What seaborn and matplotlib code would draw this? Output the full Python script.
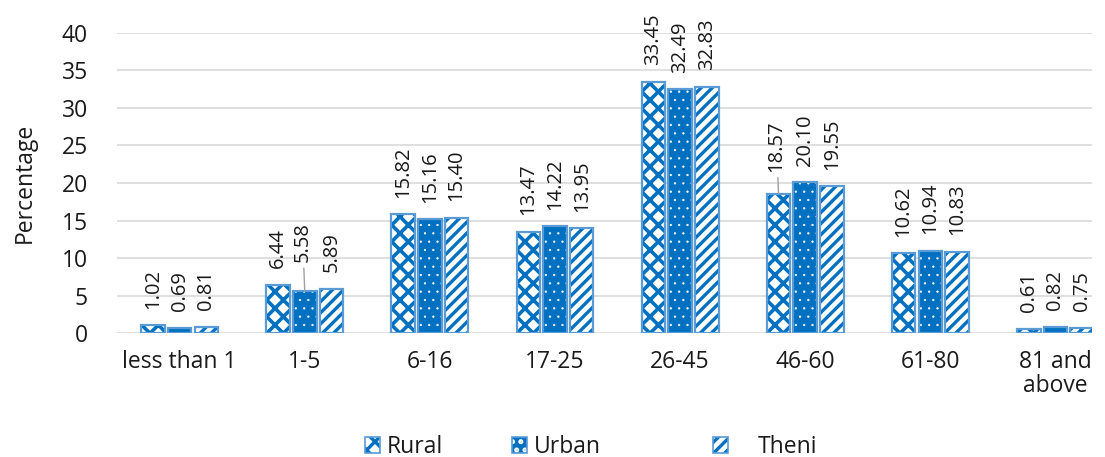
import matplotlib
matplotlib.use("Agg")
import matplotlib.pyplot as plt
from matplotlib.patches import Rectangle, Patch
from matplotlib.legend_handler import HandlerTuple
import seaborn as sns
import pandas as pd

age_groups = ["less than 1", "1-5", "6-16", "17-25", "26-45", "46-60", "61-80", "81 and\nabove"]
rural = [1.02, 6.44, 15.82, 13.47, 33.45, 18.57, 10.62, 0.61]
urban = [0.69, 5.58, 15.16, 14.22, 32.49, 20.10, 10.94, 0.82]
theni = [0.81, 5.89, 15.40, 13.95, 32.83, 19.55, 10.83, 0.75]
series = ["Rural", "Urban", "Theni"]

df = pd.DataFrame({
    "Age": age_groups * 3,
    "Percentage": rural + urban + theni,
    "Area": [s for s in series for _ in age_groups],
})

sns.set_theme(style="white")
plt.rcParams["font.family"] = ["Open Sans", "DejaVu Sans"]
plt.rcParams["hatch.linewidth"] = 2.4

BLUE = "#0070C0"
EDGE = "#5B9BD5"
TEXT = "#1a1a1a"

fig, ax = plt.subplots(figsize=(11.05, 4.57), dpi=100)
fig.subplots_adjust(left=0.106, right=0.988, top=0.928, bottom=0.271)

sns.barplot(data=df, x="Age", y="Percentage", hue="Area", order=age_groups,
            hue_order=series, width=0.64, gap=0.12, ax=ax, legend=False,
            palette=[BLUE, BLUE, BLUE])

# fill colour, hatch colour, hatch pattern, hatch line width per series
styles = {
    "Rural": ("white", BLUE, "xx", 2.6),
    "Urban": (BLUE, "white", "..", 0.4),
    "Theni": ("white", BLUE, "///", 2.4),
}
values = {"Rural": rural, "Urban": urban, "Theni": theni}
# labels pulled further out, joined to their bar by a leader line
leaders = {("Urban", 1): 21, ("Rural", 5): 16}


def style_patch(p, name):
    face, hcol, hatch, hlw = styles[name]
    p.set_facecolor(face)
    p.set_edgecolor(hcol)
    p.set_hatch(hatch)
    p.set_linewidth(0)
    if hasattr(p, "set_hatch_linewidth"):
        p.set_hatch_linewidth(hlw)


bars = [p for p in ax.patches if isinstance(p, Rectangle)]
n = len(age_groups)
for si, name in enumerate(series):
    for ci in range(n):
        p = bars[si * n + ci]
        style_patch(p, name)
        outline = Rectangle(p.get_xy(), p.get_width(), p.get_height(),
                            fill=False, edgecolor=EDGE, linewidth=1.6,
                            zorder=p.get_zorder() + 0.1)
        ax.add_patch(outline)
        v = values[name][ci]
        xc = p.get_x() + p.get_width() / 2
        if (name, ci) in leaders:
            ax.annotate(f"{v:.2f}", xy=(xc, v), xytext=(-1.5, leaders[(name, ci)]),
                        textcoords="offset points", rotation=90, ha="center", va="bottom",
                        fontsize=14.5, color=TEXT,
                        arrowprops=dict(arrowstyle="-", color="#a0a0a0", lw=1,
                                        shrinkA=2, shrinkB=0))
        else:
            ax.annotate(f"{v:.2f}", xy=(xc, v), xytext=(0, 12), textcoords="offset points",
                        rotation=90, ha="center", va="bottom", fontsize=14.5, color=TEXT)

ax.set_ylim(0, 40)
ax.set_yticks(range(0, 41, 5))
ax.set_xlim(-0.5, n - 0.71)
ax.yaxis.grid(True, color="#D9D9D9", linewidth=1.2)
ax.set_axisbelow(True)
for s in ax.spines.values():
    s.set_visible(False)
ax.tick_params(axis="both", length=0, labelsize=16.5, colors=TEXT)
ax.tick_params(axis="y", pad=21)
ax.tick_params(axis="x", pad=12)
for lbl in ax.get_xticklabels():
    lbl.set_linespacing(1.0)
ax.set_xlabel("")
ax.set_ylabel("Percentage", fontsize=16.5, color=TEXT, labelpad=18)

# one legend entry per series, laid out along the bottom
legend_spots = {"Rural": (365, 0.3), "Urban": (512, 0.3), "Theni": (713, 1.3)}
for name in series:
    h = Patch()
    style_patch(h, name)
    frame = Patch(fill=False, edgecolor=EDGE, linewidth=1.2)
    x_px, textpad = legend_spots[name]
    leg = fig.legend([(h, frame)], [name], loc="center left", frameon=False, fontsize=16.5,
                     bbox_to_anchor=(x_px / 1105, 1 - 447 / 457), borderpad=0,
                     borderaxespad=0, handlelength=0.65, handleheight=0.65,
                     handletextpad=textpad,
                     handler_map={tuple: HandlerTuple(ndivide=1, pad=0)})
    for t in leg.get_texts():
        t.set_color(TEXT)

fig.savefig("out.png", dpi=100)
